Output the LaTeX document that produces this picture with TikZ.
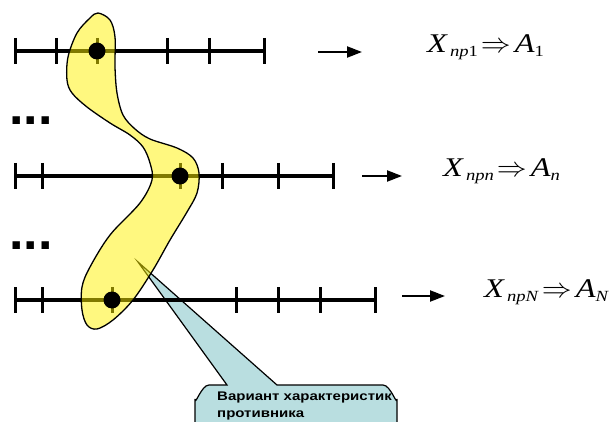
\documentclass[tikz,border=0pt]{standalone}
\usepackage{fontspec}
\setmainfont{Liberation Serif}
\setsansfont{Liberation Sans}
\newfontfamily\wideserif[FakeStretch=1.2]{Liberation Serif}
\newfontfamily\widesans[FakeStretch=1.2]{Liberation Sans}
\usepackage{xcolor}
\usepackage{graphicx}
\usepackage{tikz}
\usetikzlibrary{arrows.meta}
\definecolor{calloutblue}{RGB}{185,222,224}
\newcommand{\subtx}[1]{\raisebox{-4pt}{\fontsize{15.5}{15.5}\selectfont #1}}
\newcommand{\resline}[2]{\textit{X}\hspace{2pt}\subtx{#1}\hspace{3pt}\scalebox{1.2}[1.1]{$\Rightarrow$}\hspace{4pt}\textit{A}\subtx{#2}}

\begin{document}
\begin{tikzpicture}[x=1pt,y=-1pt,
        axis/.style={line width=3.2pt},
        tickline/.style={line width=3pt},
        hitdot/.style={fill=black},
        blob/.style={draw=black, line width=1.3pt, fill=yellow, fill opacity=0.5},
        callout/.style={draw=black, line width=1.2pt, fill=calloutblue},
        arrow/.style={-{Triangle[length=15pt,width=11pt]}, line width=2.2pt},
        formula/.style={anchor=base west, inner sep=0pt, font=\wideserif\fontsize{27}{30}\selectfont},
        dotrow/.style={anchor=base west, inner sep=0pt, font=\sffamily\bfseries\fontsize{52}{52}\selectfont},
        note/.style={anchor=base west, inner sep=0pt, align=left, font=\widesans\bfseries\fontsize{12.5}{17}\selectfont}
    ]
        \clip (0,0) rectangle (615,422);

        % Callout of the chosen variant
        \draw[callout] (195,430) -- (195,399) to[out=-90,in=180] (209,385) -- (227,385)
            -- (138,262) -- (277,385) -- (383,385) to[out=0,in=-90] (397,399) -- (397,430) -- cycle;
        \node[note] (calltext) at (217,417) {Вариант характеристик\\противника};

        % Scales
        \coordinate (axA0) at (15,51);  \coordinate (axA1) at (264,51);
        \coordinate (axB0) at (15,176); \coordinate (axB1) at (333,176);
        \coordinate (axC0) at (15,300); \coordinate (axC1) at (375,300);
        \draw[axis] (axA0) -- (axA1);
        \draw[axis] (axB0) -- (axB1);
        \draw[axis] (axC0) -- (axC1);
        \foreach \x in {15,56,97,167,209,264}
            \draw[tickline] (\x,38) -- (\x,64);
        \foreach \x in {15,42,180,222,278,333}
            \draw[tickline] (\x,163) -- (\x,189);
        \foreach \x in {15,42,112,236,278,320,375}
            \draw[tickline] (\x,287) -- (\x,313);

        % Variant area
        \draw[blob] plot[smooth cycle, tension=0.55] coordinates {
            (98,13) (110,20) (115,37) (115,67) (117,93) (123,115) (135,129) (150,139)
            (177,148) (193,158) (199,173) (197,193) (187,212) (170,240) (153,270)
            (133,300) (113,320) (97,329) (87,325) (82,310) (82,287) (90,267) (110,235)
            (140,203) (152,180) (150,163) (143,147) (130,135) (110,123) (87,107)
            (72,93) (67,80) (68,57) (77,33) (90,18)};

        % Chosen values
        \fill[hitdot] (97,51) circle (8.5);
        \fill[hitdot] (180,176) circle (8.5);
        \fill[hitdot] (112,300) circle (8.5);

        % Ellipses
        \node[dotrow] (dotsA) at (9,124.5) {...};
        \node[dotrow] (dotsB) at (9,249) {...};

        % Arrows
        \coordinate (arrA0) at (318,52);  \coordinate (arrA1) at (362,52);
        \coordinate (arrB0) at (362,176); \coordinate (arrB1) at (402,176);
        \coordinate (arrC0) at (402,296); \coordinate (arrC1) at (445,296);
        \draw[arrow] (arrA0) -- (arrA1);
        \draw[arrow] (arrB0) -- (arrB1);
        \draw[arrow] (arrC0) -- (arrC1);

        % Results
        \node[formula] (resA) at (427,53) {\resline{\textit{np}1}{1}};
        \node[formula] (resB) at (443,177) {\resline{\textit{npn}}{\textit{n}}};
        \node[formula] (resC) at (484,297) {\resline{\textit{npN}}{\textit{N}}};
    \end{tikzpicture}
\end{document}
